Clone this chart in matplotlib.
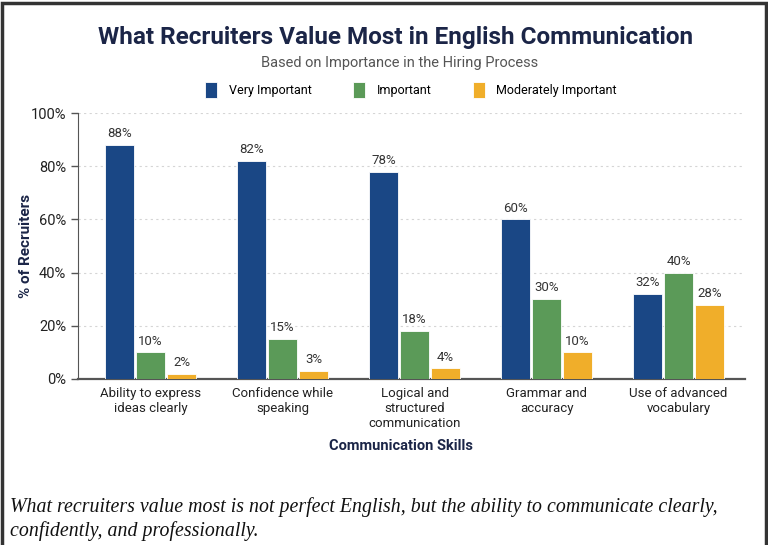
import matplotlib.pyplot as plt
from matplotlib.patches import Rectangle
import numpy as np

skills = ["Ability to express\nideas clearly", "Confidence while\nspeaking",
          "Logical and\nstructured\ncommunication", "Grammar and\naccuracy",
          "Use of advanced\nvocabulary"]
very_important = [88, 82, 78, 60, 32]
important = [10, 15, 18, 30, 40]
moderately_important = [2, 3, 4, 10, 28]
series_names = ["Very Important", "Important", "Moderately Important"]
colors = ["#1a4785", "#5b9a58", "#f0ae2a"]
navy = "#1b2547"

plt.rcParams['font.family'] = ['Roboto', 'DejaVu Sans']

fig = plt.figure(figsize=(7.68, 5.45), dpi=100)
ax = fig.add_axes([0.1016, 0.3046, 0.868, 0.488])

x = np.arange(len(skills))
w = 0.22
step = 0.235
for i, (vals, name, c) in enumerate(zip([very_important, important, moderately_important],
                                       series_names, colors)):
    pos = x + (i - 1) * step
    bars = ax.bar(pos, vals, w, color=c, label=name, zorder=3,
                  edgecolor='white', linewidth=0.6)
    for b, v in zip(bars, vals):
        ax.text(b.get_x() + b.get_width() / 2, v + 1.8, f"{v}%",
                ha='center', va='bottom', fontsize=9.5, color='#333333')

ax.set_xlim(-0.55, 4.5)
ax.set_ylim(0, 100)
ax.set_yticks(range(0, 101, 20))
ax.set_yticklabels([f"{t}%" for t in range(0, 101, 20)], fontsize=10.5, color='#222222')
ax.set_xticks(x)
ax.set_xticklabels(skills, fontsize=9.5, color='#222222', linespacing=1.2)
ax.tick_params(axis='x', length=0, pad=6)
ax.tick_params(axis='y', length=5, color='#555555', width=1)
for t in range(20, 101, 20):
    ax.axhline(t, color='#d5d5d5', linestyle=(0, (2, 3)), linewidth=0.8, zorder=1)
for s in ['top', 'right']:
    ax.spines[s].set_visible(False)
ax.spines['left'].set_color('#555555')
ax.spines['bottom'].set_color('#555555')
ax.spines['bottom'].set_linewidth(1.6)

fig.text(0.034, 0.548, "% of Recruiters", rotation=90, ha='center', va='center',
         fontsize=11, fontweight='bold', color=navy)
fig.text(0.522, 0.182, "Communication Skills", ha='center', va='center',
         fontsize=10.5, fontweight='bold', color=navy)

fig.text(0.515, 0.931, "What Recruiters Value Most in English Communication",
         ha='center', va='center', fontsize=17.5, fontweight='bold', color=navy)
fig.text(0.52, 0.884, "Based on Importance in the Hiring Process",
         ha='center', va='center', fontsize=10.5, color='#555555')

leg = fig.legend(loc='center', bbox_to_anchor=(0.535, 0.835), ncol=3, frameon=False,
                 fontsize=9, handlelength=1.0, handleheight=1.5, columnspacing=3.3,
                 handletextpad=0.9)

fig.text(0.013, 0.048, "What recruiters value most is not perfect English, but the ability to communicate clearly,\nconfidently, and professionally.",
         ha='left', va='center', fontsize=14.3, style='italic', color='#111111',
         family=['Liberation Serif'], linespacing=1.3)

# outer frame
fig.patches.append(Rectangle((0.002, -0.01), 0.995, 1.005, transform=fig.transFigure,
                             fill=False, edgecolor='#333333', linewidth=2.5))

fig.savefig("out.png", dpi=100)
